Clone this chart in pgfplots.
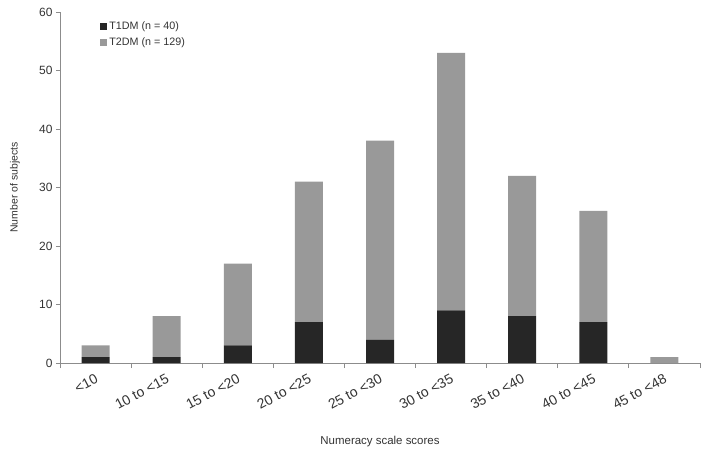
\documentclass[border=0pt]{standalone}
\usepackage{fontspec}
\setmainfont{Liberation Sans}
\usepackage{pgfplots}
\pgfplotsset{compat=1.18}
\definecolor{tonedark}{HTML}{262626}
\definecolor{tonegray}{HTML}{999999}
\definecolor{axisgray}{HTML}{8C8C8C}
\definecolor{textgray}{HTML}{333333}
\begin{document}
\begin{tikzpicture}[font=\fontsize{10.5}{12.6}\selectfont]
\begin{axis}[
    name=ax,
    scale only axis,
    width=640bp, height=351bp,
    ybar stacked, bar width=28bp,
    xmin=-0.5, xmax=8.5,
    ymin=0, ymax=60,
    ytick={0,10,...,60},
    xtick={0,...,8},
    xticklabels={<10,10 to <15,15 to <20,20 to <25,25 to <30,30 to <35,35 to <40,40 to <45,45 to <48},
    minor xtick={-0.5,0.5,...,8.5},
    major x tick style={draw=none},
    tick align=outside,
    major tick length=4bp, minor tick length=5bp,
    tick style={axisgray, line width=0.8pt},
    axis x line*=bottom, axis y line*=left,
    axis line style={axisgray, line width=0.8pt, -},
    x tick label style={rotate=28, anchor=north east, text=textgray, xshift=-3bp, yshift=-4bp,
        inner sep=1bp, font=\fontsize{14}{16}\selectfont},
    y tick label style={text=textgray, font=\fontsize{12}{14}\selectfont},
    /pgf/number format/assume math mode=true,
    xlabel={Numeracy scale scores},
    ylabel={Number of subjects},
    xlabel style={at={(axis description cs:0.5,-0.225)}, anchor=center, text=textgray,
        font=\fontsize{11.5}{13}\selectfont},
    ylabel style={at={(axis description cs:-0.0703,0.5)}, anchor=center, text=textgray},
    legend style={at={(axis description cs:0.058,0.985)}, anchor=north west,
        draw=none, fill=none, row sep=3bp, text=textgray,
        font=\fontsize{10.8}{12.6}\selectfont},
    legend cell align=left,
    legend image code/.code={\fill[#1,draw=none] (0bp,-3.5bp) rectangle (7bp,3.5bp);},
]
\addplot[fill=tonedark, draw=none] coordinates {
    (0,1) (1,1) (2,3) (3,7) (4,4) (5,9) (6,8) (7,7) (8,0)
};
\addlegendentry{T1DM (n = 40)}
\addplot[fill=tonegray, draw=none] coordinates {
    (0,2) (1,7) (2,14) (3,24) (4,34) (5,44) (6,24) (7,19) (8,1)
};
\addlegendentry{T2DM (n = 129)}
\end{axis}
\path ([shift={(-60bp,-91bp)}]ax.south west) rectangle ([shift={(4bp,12bp)}]ax.north east);
\end{tikzpicture}
\end{document}
